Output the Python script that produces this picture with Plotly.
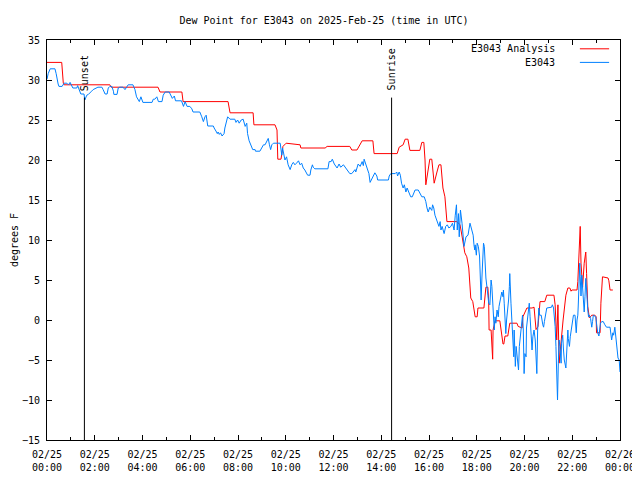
import pandas as pd
import plotly.graph_objects as go

# ---------------- data ----------------
base_day = "2025-02-25"
title_text = "Dew Point for E3043 on 2025-Feb-25 (time in UTC)"
y_label = "degrees F"

# E3043 Analysis (red): minutes after 00:00 UTC, dew point (F)
analysis_min = [0, 37, 41, 43, 158, 161, 279, 284, 339, 342, 455, 460, 518, 520, 573, 578, 580, 588,
                593, 601, 636, 638, 699, 704, 761, 766, 779, 787, 792, 819, 822, 880, 885, 895, 900,
                907, 912, 937, 942, 947, 950, 952, 957, 962, 967, 973, 980, 985, 990, 995, 1000, 1003,
                1005, 1030, 1038, 1043, 1050, 1055, 1060, 1065, 1070, 1076, 1081, 1083, 1098, 1103,
                1108, 1110, 1111, 1116, 1118, 1120, 1121, 1123, 1126, 1138, 1143, 1146, 1148, 1151,
                1158, 1163, 1181, 1184, 1194, 1196, 1206, 1219, 1224, 1229, 1234, 1239, 1251, 1256,
                1274, 1277, 1281, 1284, 1287, 1292, 1297, 1304, 1309, 1314, 1317, 1319, 1332, 1334,
                1338, 1340, 1342, 1344, 1346, 1350, 1352, 1354, 1356, 1359, 1363, 1369, 1377, 1380,
                1381, 1390, 1392, 1394, 1396, 1410, 1412, 1415, 1422]
analysis_val = [32.2, 32.2, 29.6, 29.4, 29.4, 29.1, 29.1, 28.5, 28.5, 27.3, 27.3, 25.9, 25.9, 24.4,
                24.4, 23.75, 20.1, 20.1, 21.7, 22.1, 21.9, 21.5, 21.5, 21.7, 21.7, 21.25, 21.25, 21.9,
                22.4, 22.4, 20.8, 20.8, 21.6, 21.9, 22.6, 22.6, 21.2, 21.2, 22.2, 22.2, 20.0, 16.9,
                18.4, 20.1, 20.1, 17.1, 18.5, 19.4, 19.4, 16.5, 15.4, 13.75, 12.3, 12.3, 11.9, 10.5,
                8.4, 7.9, 6.5, 2.75, 2.3, 0.4, 0.4, 1.5, 1.5, 4.1, 4.1, 2.3, -1.25, -1.25, -3.75,
                -4.9, -1.25, -0.6, -0.1, -0.1, -2.1, -3.0, -3.0, -2.0, -2.0, -0.4, -0.4, -0.8, -1.0,
                0.4, 1.5, 1.5, 1.6, -1.2, -0.8, 2.3, 2.3, 3.1, 3.1, 1.9, -2.5, 1.9, -5.4, -2.5, 0.0,
                3.1, 4.0, 4.0, 3.6, 3.75, 3.75, 4.8, 9.6, 11.7, 7.1, 5.4, 4.1, 7.1, 7.9, 8.5, 5.8,
                1.7, 0.25, 0.6, 0.6, 0.4, -1.6, -1.6, 2.1, 3.75, 5.4, 5.25, 4.9, 3.75, 3.75]

# E3043 observed (blue)
obs_min = [0, 3, 8, 20, 23, 25, 28, 30, 38, 43, 50, 54, 58, 65, 75, 77, 81, 85, 93, 95, 100, 104,
           112, 116, 128, 138, 141, 146, 151, 154, 158, 163, 167, 168, 176, 179, 183, 191, 196, 200,
           204, 216, 221, 225, 232, 236, 241, 264, 267, 271, 276, 280, 289, 292, 297, 307, 309, 315,
           320, 323, 338, 343, 347, 352, 359, 364, 367, 384, 389, 393, 397, 400, 404, 418, 420, 424,
           426, 428, 430, 433, 436, 440, 445, 447, 452, 454, 460, 472, 475, 479, 483, 488, 493, 498,
           502, 504, 508, 512, 517, 523, 524, 535, 540, 544, 548, 552, 556, 559, 562, 565, 569, 586,
           587, 590, 592, 595, 598, 602, 606, 611, 615, 619, 623, 627, 632, 636, 640, 644, 648, 655,
           661, 663, 667, 669, 673, 706, 709, 714, 717, 722, 725, 729, 734, 738, 745, 749, 753, 761,
           766, 770, 774, 776, 782, 787, 792, 795, 797, 801, 805, 809, 812, 816, 820, 824, 829, 831,
           858, 860, 864, 875, 879, 881, 885, 888, 891, 895, 898, 902, 905, 910, 914, 918, 921, 925,
           933, 937, 942, 948, 952, 955, 958, 962, 967, 969, 972, 975, 979, 983, 985, 988, 990, 993,
           998, 1002, 1006, 1010, 1015, 1019, 1023, 1026, 1029, 1031, 1034, 1036, 1039, 1043, 1045,
           1048, 1053, 1058, 1063, 1068, 1071, 1073, 1075, 1076, 1079, 1081, 1084, 1087, 1089, 1091,
           1093, 1095, 1097, 1099, 1101, 1103, 1108, 1110, 1113, 1114, 1116, 1118, 1120, 1122, 1124,
           1126, 1128, 1131, 1134, 1136, 1139, 1141, 1143, 1146, 1147, 1149, 1151, 1153, 1155, 1158,
           1160, 1162, 1163, 1166, 1168, 1170, 1173, 1174, 1177, 1179, 1181, 1185, 1187, 1189, 1192,
           1195, 1197, 1199, 1201, 1204, 1205, 1208, 1210, 1212, 1214, 1216, 1219, 1221, 1224, 1227,
           1229, 1231, 1233, 1236, 1238, 1242, 1246, 1248, 1250, 1252, 1254, 1256, 1268, 1270, 1273,
           1275, 1277, 1279, 1281, 1283, 1285, 1287, 1289, 1292, 1293, 1296, 1298, 1300, 1304, 1306,
           1309, 1310, 1313, 1315, 1319, 1321, 1323, 1327, 1328, 1330, 1332, 1334, 1335, 1337, 1339,
           1340, 1342, 1344, 1346, 1348, 1350, 1352, 1354, 1356, 1357, 1359, 1361, 1363, 1366, 1369,
           1371, 1373, 1379, 1381, 1382, 1384, 1387, 1389, 1391, 1394, 1398, 1402, 1406, 1415, 1417,
           1419, 1422, 1424, 1427, 1429, 1431, 1434, 1435, 1438, 1440]
obs_val = [30.1, 30.8, 31.4, 31.4, 30.8, 30.0, 29.5, 29.2, 29.2, 29.6, 29.6, 29.4, 29.7, 29.0, 29.0,
           29.3, 28.8, 28.25, 28.25, 27.5, 28.1, 28.2, 28.6, 28.8, 29.1, 29.1, 28.8, 28.25, 28.25,
           29.0, 29.2, 29.2, 28.6, 28.2, 28.2, 29.0, 29.1, 29.1, 28.8, 29.1, 29.4, 29.4, 28.8, 27.9,
           27.3, 27.9, 27.2, 27.2, 27.6, 27.6, 27.9, 27.3, 27.3, 28.1, 28.5, 28.5, 28.25, 27.7, 28.0,
           27.4, 27.4, 26.7, 27.3, 26.7, 26.7, 26.4, 26.0, 26.0, 25.4, 24.8, 25.4, 25.6, 24.25, 24.25,
           24.0, 23.5, 23.5, 23.3, 23.5, 23.2, 23.4, 23.0, 23.3, 24.0, 24.8, 25.4, 25.1, 25.1, 24.7,
           25.0, 24.6, 25.0, 25.1, 24.2, 24.6, 23.3, 22.4, 21.9, 21.3, 21.3, 21.1, 21.1, 21.5, 21.9,
           21.9, 22.3, 22.7, 21.9, 21.3, 21.9, 22.1, 22.1, 21.7, 20.6, 21.5, 20.6, 20.0, 20.4, 19.4,
           18.8, 19.4, 19.7, 19.4, 19.6, 19.9, 19.4, 19.6, 19.0, 18.75, 18.1, 18.1, 18.75, 19.4, 19.1,
           18.9, 18.9, 19.8, 19.8, 20.1, 19.5, 19.3, 19.0, 19.5, 19.1, 19.4, 19.1, 18.8, 18.3, 18.3,
           18.6, 18.8, 18.5, 19.5, 19.2, 19.8, 19.3, 20.1, 19.5, 19.0, 18.3, 17.2, 17.6, 18.0, 18.4,
           18.0, 17.5, 17.5, 18.0, 18.3, 18.3, 18.5, 18.0, 18.5, 18.1, 17.1, 16.5, 16.9, 16.0, 16.5,
           15.8, 15.4, 15.4, 15.8, 16.25, 16.25, 15.8, 15.4, 15.4, 14.8, 14.0, 13.5, 14.1, 13.7, 14.4,
           14.0, 13.1, 12.5, 12.1, 11.7, 12.3, 11.25, 11.7, 10.8, 11.7, 11.9, 11.5, 11.7, 12.1, 11.25,
           13.1, 14.4, 11.25, 13.3, 10.4, 13.75, 12.1, 10.8, 9.2, 10.4, 10.6, 12.1, 11.1, 10.6, 9.4,
           8.75, 9.4, 8.1, 9.6, 9.2, 8.0, 5.0, 2.5, 5.25, 7.3, 9.6, 9.2, 6.9, 5.25, 3.1, 2.1, 1.9,
           3.75, 5.0, 4.2, 1.7, -0.4, -1.25, 0.4, -0.4, 1.25, 0.4, 1.7, 2.5, 3.1, 3.5, 2.9, 3.75, 2.1,
           0.0, -1.7, 0.0, 1.25, 2.5, 4.2, 5.8, 2.1, -0.4, -2.9, -4.6, -1.25, -5.8, -3.3, -4.6, -6.25,
           -3.3, -2.1, -0.6, 0.6, -1.25, -6.7, -4.2, -4.6, -1.0, 0.2, 1.25, 2.1, 0.4, -1.6, -3.75,
           -2.1, -1.25, -2.5, -5.0, -6.7, -1.25, 1.5, 0.6, 0.6, -0.6, -0.9, -0.2, 0.6, 1.25, 1.5, 1.6,
           1.9, 1.5, 0.6, -0.8, -3.3, -7.7, -10.0, -5.4, -2.5, -3.3, -5.4, -2.9, -1.9, -3.75, -5.0,
           -6.0, -4.2, -1.25, -2.3, -3.3, -2.1, -0.6, -0.2, 0.6, 0.6, 0.0, -1.6, 0.0, 0.6, 1.75, 5.0,
           7.1, 5.4, 3.0, 5.6, 4.2, 2.5, 1.0, 2.9, 5.2, 3.75, 2.1, 1.25, 0.4, 0.6, 0.2, -0.9, -0.2,
           0.6, 0.4, -0.6, -0.2, -1.6, -2.0, -1.25, -0.4, -0.2, -0.2, -0.6, -0.9, -0.9, -1.6, -2.5,
           -1.6, -1.9, -0.9, -1.9, -3.1, -3.75, -4.75, -5.0, -6.5]

# Sun events (minutes after 00:00 UTC)
event_names = ["Sunset", "Sunrise"]
event_min = [94, 866]
event_line_top = 27.8
event_label_y = 28.4

series_names = ["E3043 Analysis", "E3043"]
series_colors = ["#ff0000", "#0080ff"]

# ---------------- figure ----------------
t0 = pd.Timestamp(base_day)
def to_time(mins):
    return t0 + pd.to_timedelta(mins, unit="min")

ana_t = to_time(analysis_min)
obs_t = to_time(obs_min)
ev_t = [t0 + pd.Timedelta(minutes=m) for m in event_min]

font_main = "DejaVu Sans Mono"
fig = go.Figure()
fig.add_trace(go.Scatter(x=ana_t, y=analysis_val, mode="lines", name=series_names[0],
                         line=dict(color=series_colors[0], width=1)))
fig.add_trace(go.Scatter(x=obs_t, y=obs_val, mode="lines", name=series_names[1],
                         line=dict(color=series_colors[1], width=1)))

for name, t in zip(event_names, ev_t):
    fig.add_shape(type="line", xref="x", yref="y", x0=t, x1=t, y0=-15, y1=event_line_top,
                  line=dict(color="black", width=1))
    fig.add_annotation(x=t, y=event_label_y, xref="x", yref="y", text=name, textangle=-90,
                       showarrow=False, xanchor="center", yanchor="bottom",
                       font=dict(family=font_main, size=10, color="black"))

# legend (gnuplot style: text right-aligned, sample line on the right)
leg_y = [0.978, 0.944]
for i, (nm, col) in enumerate(zip(series_names, series_colors)):
    fig.add_annotation(x=0.890, y=leg_y[i], xref="paper", yref="paper", text=nm,
                       showarrow=False, xanchor="right", yanchor="middle",
                       font=dict(family=font_main, size=10, color="black"))
    fig.add_shape(type="line", xref="paper", yref="paper", x0=0.930, x1=0.981,
                  y0=leg_y[i], y1=leg_y[i], line=dict(color=col, width=1))

fig.add_annotation(x=-0.0575, y=0.5, xref="paper", yref="paper", text=y_label, textangle=-90,
                   showarrow=False, xanchor="center", yanchor="middle",
                   font=dict(family=font_main, size=10, color="black"))

# the page body has an 8px default margin, so the figure is sized to fit the 640x480 window
fig_w, fig_h = 632, 464
fig.update_layout(
    width=fig_w, height=fig_h,
    margin=dict(l=39, r=20, t=32, b=32, autoexpand=False),
    paper_bgcolor="white", plot_bgcolor="white",
    showlegend=False,
    title=dict(text=title_text, x=0.5, xanchor="center", y=1 - 12 / fig_h, yanchor="middle",
               font=dict(family=font_main, size=10, color="black")),
    font=dict(family=font_main, size=10, color="black"),
)
fig.update_xaxes(
    type="date", automargin=False,
    range=[t0, t0 + pd.Timedelta(hours=24)],
    tick0=t0, dtick=2 * 3600 * 1000,
    tickformat="%m/%d<br>%H:%M",
    ticks="inside", ticklen=5, tickcolor="black",
    minor=dict(dtick=3600 * 1000, ticks="inside", ticklen=3, tickcolor="black"),
    showline=True, linecolor="black", linewidth=1, mirror="ticks",
    showgrid=False, zeroline=False,
    ticklabelstandoff=5,
    tickfont=dict(family=font_main, size=10, color="black"),
)
fig.update_yaxes(
    automargin=False,
    range=[-15, 35], dtick=5, tick0=-15,
    ticks="inside", ticklen=5, tickcolor="black",
    showline=True, linecolor="black", linewidth=1, mirror="ticks",
    showgrid=False, zeroline=False,
    ticklabelstandoff=4,
    tickfont=dict(family=font_main, size=10, color="black"),
)

fig.write_html("out.html")
